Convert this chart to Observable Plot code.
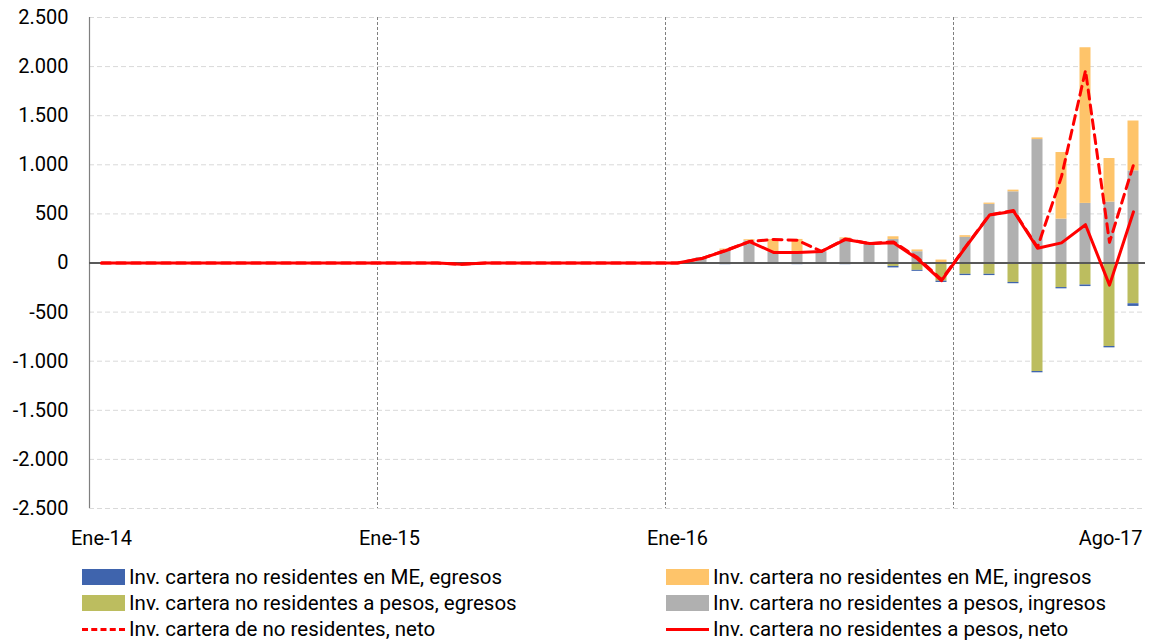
<!DOCTYPE html>
<html>
<head>
<meta charset="utf-8">
<script src="https://cdn.jsdelivr.net/npm/d3@7"></script>
<script src="https://cdn.jsdelivr.net/npm/@observablehq/plot@0.6"></script>
<style>
  html, body { margin: 0; padding: 0; background: #fff; }
  body { width: 1152px; height: 642px; overflow: hidden; font-family: Roboto, "Liberation Sans", sans-serif; color: #000; }
  #chart svg { display: block; overflow: visible; }
  .legend { display: grid; grid-template-columns: 584px 486px; grid-auto-rows: 26px; padding-left: 82px; margin-top: 9px; font-size: 20.5px; }
  .item { display: flex; align-items: center; white-space: nowrap; }
  .sw { width: 43px; height: 16px; margin-right: 4px; flex: none; }
  .ln { width: 43px; height: 0; margin-right: 4px; flex: none; border-top: 3px solid #ff0000; }
  .ln.dash { border-top: 3px dashed #ff0000; }
</style>
</head>
<body>
<div id="chart"></div>
<div class="legend" id="legend"></div>
<script>
// ---- Data (monthly, Ene-14 .. Ago-17) ----
const monthAbbr = ["Ene","Feb","Mar","Abr","May","Jun","Jul","Ago","Sep","Oct","Nov","Dic"];
const years = ["14","15","16","17"];
const nMonths = 44;

// Inv. cartera no residentes en ME, egresos
const meEgresos = [
  0,0,0,0,0,0,0,0,0,0,0,0,
  0,0,0,0,0,0,0,0,0,0,0,0,
  0,0,-12,-10,-10,-12,-10,-12,-10,-15,-10,-13,
  -13,-13,-13,-13,-13,-16,-14,-27
];
// Inv. cartera no residentes en ME, ingresos
const meIngresos = [
  0,0,0,0,0,0,0,0,0,0,0,0,
  0,0,0,0,0,0,0,0,0,0,0,0,
  0,0,12,12,128,128,0,12,0,27,18,30,
  17,13,17,17,678,1585,444,508
];
// Inv. cartera no residentes a pesos, egresos
const pesosEgresos = [
  0,0,0,0,0,0,0,0,0,0,0,0,
  0,0,0,-12,0,0,0,0,0,0,0,0,
  0,-12,-5,-3,-3,-5,-5,-5,-3,-35,-75,-185,
  -115,-115,-198,-1105,-250,-224,-850,-415
];
// Inv. cartera no residentes a pesos, ingresos
const pesosIngresos = [
  0,0,0,0,0,0,0,0,0,0,0,0,
  0,0,0,0,0,0,0,0,0,0,0,0,
  0,55,130,225,112,112,115,244,200,240,115,0,
  261,597,725,1257,447,607,620,938
];
// Inv. cartera de no residentes, neto
const netoTotal = [
  0,0,0,0,0,0,0,0,0,0,0,0,
  0,0,0,-12,0,0,0,0,0,0,0,0,
  0,45,128,218,240,232,118,245,198,215,55,-170,
  165,490,535,160,880,1960,210,1000
];
// Inv. cartera no residentes a pesos, neto
const netoPesos = [
  0,0,0,0,0,0,0,0,0,0,0,0,
  0,0,0,-12,0,0,0,0,0,0,0,0,
  0,45,125,218,108,108,118,240,198,205,42,-180,
  160,488,528,150,205,390,-225,521
];

const seriesNames = [
  "Inv. cartera no residentes en ME, egresos",
  "Inv. cartera no residentes en ME, ingresos",
  "Inv. cartera no residentes a pesos, egresos",
  "Inv. cartera no residentes a pesos, ingresos",
  "Inv. cartera de no residentes, neto",
  "Inv. cartera no residentes a pesos, neto"
];
const barColors = ["#3f64ad", "#fec46a", "#bcbd5f", "#b0b0b0"];

const xTickIndex = [0, 12, 24];
const xTickLabels = ["Ene-14", "Ene-15", "Ene-16"];
const xLastIndex = [43];
const xLastLabel = ["Ago-17"];
const yTicks = [-2500,-2000,-1500,-1000,-500,0,500,1000,1500,2000,2500];
const yearDividers = [12, 24, 36];

// ---- Build tables ----
const categories = d3.range(nMonths).map(k => monthAbbr[k % 12] + "-" + years[Math.floor(k / 12)]);
const barSeries = [
  [seriesNames[3], pesosIngresos],
  [seriesNames[1], meIngresos],
  [seriesNames[2], pesosEgresos],
  [seriesNames[0], meEgresos]
];
const bars = barSeries.flatMap(([s, arr]) => arr.map((v, k) => ({k, cat: categories[k], s, v})));
const lineTotal = netoTotal.map((v, k) => ({k, v}));
const linePesos = netoPesos.map((v, k) => ({k, v}));

const fmt = d3.formatLocale({decimal: ",", thousands: ".", grouping: [3], currency: ["", ""], minus: "-"}).format(",");

const chart = Plot.plot({
  width: 1152,
  height: 555,
  marginLeft: 89,
  marginRight: 7,
  marginTop: 17,
  marginBottom: 47,
  x: {domain: [0, nMonths], axis: null},
  y: {domain: [-2500, 2500], axis: null},
  color: {domain: [seriesNames[0], seriesNames[1], seriesNames[2], seriesNames[3]], range: barColors},
  style: {fontFamily: "Roboto, 'Liberation Sans', sans-serif", fontSize: "20px", color: "#000", background: "#fff"},
  marks: [
    Plot.gridY(yTicks, {stroke: "#d9d9d9", strokeOpacity: 1, strokeDasharray: "5,3"}),
    Plot.ruleX(yearDividers, {stroke: "#7f7f7f", strokeOpacity: 1, strokeDasharray: "3,2"}),
    Plot.ruleX([0], {stroke: "#7f7f7f", strokeWidth: 1.2}),
    Plot.rectY(bars, Plot.stackY({
      x: "k", y: "v", fill: "s",
      order: [seriesNames[3], seriesNames[1], seriesNames[2], seriesNames[0]],
      interval: 1, insetLeft: 6.5, insetRight: 6.5
    })),
    Plot.ruleY([0], {stroke: "#595959", strokeWidth: 2}),
    Plot.line(lineTotal, {x: d => d.k + 0.5, y: "v", stroke: "#ff0000", strokeWidth: 3, strokeDasharray: "9,6", strokeLinejoin: "round"}),
    Plot.line(linePesos, {x: d => d.k + 0.5, y: "v", stroke: "#ff0000", strokeWidth: 3, strokeLinejoin: "round"}),
    Plot.axisY(yTicks, {label: null, tickSize: 0, tickPadding: 21, tickFormat: fmt, fontSize: 20}),
    Plot.axisX(xTickIndex.map(k => k + 0.5), {label: null, tickSize: 0, tickPadding: 22, fontSize: 20,
      tickFormat: (d) => xTickLabels[xTickIndex.indexOf(d - 0.5)]}),
    Plot.axisX(xLastIndex.map(k => k + 0.5), {label: null, tickSize: 0, tickPadding: 22, fontSize: 20, textAnchor: "end", dx: 9,
      tickFormat: (d) => xLastLabel[xLastIndex.indexOf(d - 0.5)]})
  ]
});
document.getElementById("chart").appendChild(chart);

// ---- Legend ----
const legendOrder = [
  {name: seriesNames[0], type: "sw", color: barColors[0]},
  {name: seriesNames[1], type: "sw", color: barColors[1]},
  {name: seriesNames[2], type: "sw", color: barColors[2]},
  {name: seriesNames[3], type: "sw", color: barColors[3]},
  {name: seriesNames[4], type: "dash"},
  {name: seriesNames[5], type: "solid"}
];
const legend = document.getElementById("legend");
for (const it of legendOrder) {
  const div = document.createElement("div");
  div.className = "item";
  const sw = document.createElement("span");
  if (it.type === "sw") { sw.className = "sw"; sw.style.background = it.color; }
  else { sw.className = it.type === "dash" ? "ln dash" : "ln"; }
  const tx = document.createElement("span");
  tx.textContent = it.name;
  div.appendChild(sw);
  div.appendChild(tx);
  legend.appendChild(div);
}
</script>
</body>
</html>
